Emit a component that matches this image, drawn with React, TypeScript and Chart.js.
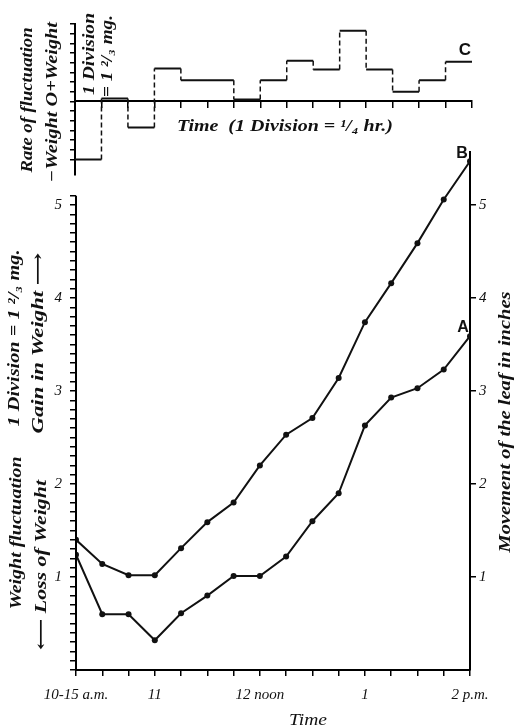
import React, { useEffect, useRef } from 'react';
import { Chart, registerables } from 'chart.js';

Chart.register(...registerables);

// ---- data ----
// x index = quarter hours from 10-15 a.m. (0) to 2 p.m. (15)
const timeTickLabels = ['10-15 a.m.', '', '', '11', '', '', '', '12 noon', '', '', '', '1', '', '', '', '2 p.m.'];
const leafA = [1.24, 0.60, 0.60, 0.32, 0.61, 0.80, 1.01, 1.01, 1.22, 1.60, 1.90, 2.63, 2.93, 3.03, 3.23, 3.59];
const leafB = [1.40, 1.14, 1.02, 1.02, 1.31, 1.59, 1.80, 2.20, 2.53, 2.71, 3.14, 3.74, 4.16, 4.59, 5.06, 5.47];
// rate of fluctuation per quarter hour (divisions)
const rateC = [-6.0, 0.3, -2.7, 3.4, 2.2, 2.2, 0.2, 2.2, 4.2, 3.3, 7.3, 3.3, 1.0, 2.2, 4.1];
const weightTickLabels = ['1', '2', '3', '4', '5'];
const leafTickLabels = ['1', '2', '3', '4', '5'];

const SERIF = '"Liberation Serif", "DejaVu Serif", serif';
const SANS = '"Liberation Sans", "DejaVu Sans", sans-serif';

function drawText(ctx: any, s: string, x: number, y: number, font: string, rot = 0, len = 0) {
  ctx.save();
  ctx.translate(x, y);
  ctx.rotate(rot);
  ctx.font = font;
  ctx.fillStyle = '#111';
  ctx.textAlign = 'center';
  ctx.textBaseline = 'middle';
  if (len) {
    const w = ctx.measureText(s).width;
    ctx.scale(len / w, 1);
  }
  ctx.fillText(s, 0, 0);
  ctx.restore();
}

const R = -Math.PI / 2;

const topTextPlugin = {
  id: 'topText',
  afterDraw(chart: any) {
    const ctx = chart.ctx;
    drawText(ctx, 'Rate of fluctuation', 28, 100, `italic bold 16px ${SERIF}`, R, 145);
    drawText(ctx, '\u2212Weight O+Weight', 53, 102, `italic bold 16px ${SERIF}`, R, 160);
    drawText(ctx, '1 Division', 90, 54, `italic bold 16px ${SERIF}`, R, 82);
    drawText(ctx, '= 1 \u00B2/\u2083 mg.', 108, 56, `italic bold 16px ${SERIF}`, R, 82);
    drawText(ctx, 'Time  (1 Division = \u00B9/\u2084 hr.)', 285, 127, `italic bold 16px ${SERIF}`, 0, 216);
    drawText(ctx, 'C', 465, 50, `bold 17px ${SANS}`);
  },
};

const bottomTextPlugin = {
  id: 'bottomText',
  afterDraw(chart: any) {
    const ctx = chart.ctx;
    const y = chart.scales.y;
    const left = chart.chartArea.left;
    ctx.save();
    ctx.strokeStyle = '#000';
    ctx.lineWidth = 2;
    ctx.beginPath();
    ctx.moveTo(left, y.getPixelForValue(0) + 1);
    ctx.lineTo(left, y.getPixelForValue(5.1));
    ctx.stroke();
    ctx.restore();

    drawText(ctx, '1 Division = 1 \u00B2/\u2083 mg.', 15, 338, `italic bold 16px ${SERIF}`, R, 177);
    drawText(ctx, 'Gain in Weight \u27F6', 39, 343, `italic bold 16px ${SERIF}`, R, 181);
    drawText(ctx, 'Weight fluctuation', 17, 533, `italic bold 16px ${SERIF}`, R, 153);
    drawText(ctx, '\u27F5 Loss of Weight', 42, 565, `italic bold 16px ${SERIF}`, R, 170);
    drawText(ctx, 'Movement of the leaf in inches', 506, 422, `italic bold 16px ${SERIF}`, R, 261);
    drawText(ctx, 'A', 463, 328, `bold 16px ${SANS}`);
    drawText(ctx, 'B', 462, 154, `bold 16px ${SANS}`);
    drawText(ctx, 'Time', 308, 721, `italic 16px ${SERIF}`, 0, 38);
  },
};

export default function App() {
  const topRef = useRef<HTMLCanvasElement>(null);
  const botRef = useRef<HTMLCanvasElement>(null);

  useEffect(() => {
    document.body.style.margin = '0';
    document.body.style.overflow = 'hidden';
    document.body.style.background = '#fff';

    const hSeg: any[] = [];
    rateC.forEach((v, i) => {
      hSeg.push({ x: i, y: v }, { x: i + 1, y: v }, { x: i + 1, y: null });
    });
    const vSeg: any[] = [];
    for (let i = 1; i < rateC.length; i++) {
      vSeg.push({ x: i, y: rateC[i - 1] }, { x: i, y: rateC[i] }, { x: i, y: null });
    }

    const topChart = new Chart(topRef.current as any, {
      type: 'line',
      data: {
        datasets: [
          { data: hSeg, borderColor: '#111', borderWidth: 2, pointRadius: 0, spanGaps: false },
          { data: vSeg, borderColor: '#111', borderWidth: 1.5, borderDash: [5, 3], pointRadius: 0, spanGaps: false },
        ],
      },
      options: {
        responsive: false,
        animation: false,
        layout: { padding: { top: 24, bottom: 25, left: 0, right: 42 } },
        plugins: { legend: { display: false }, tooltip: { enabled: false } },
        scales: {
          x: {
            type: 'linear',
            min: 0,
            max: 15,
            position: { y: 0 } as any,
            border: { display: true, color: '#000', width: 2 },
            grid: { drawOnChartArea: false, tickLength: 6, color: '#000', lineWidth: 1.5 },
            ticks: { display: false, stepSize: 1, autoSkip: false },
          },
          y: {
            type: 'linear',
            min: -7.6,
            max: 8,
            position: 'left',
            afterFit: (s: any) => { s.width = 75; },
            afterBuildTicks: (s: any) => { s.ticks = s.ticks.filter((t: any) => Math.abs(t.value - Math.round(t.value)) < 1e-6); },
            border: { display: true, color: '#000', width: 2 },
            grid: { drawOnChartArea: false, tickLength: 5, color: '#000', lineWidth: 1.5 },
            ticks: { display: false, stepSize: 1, autoSkip: false },
          },
        },
      } as any,
      plugins: [topTextPlugin],
    });

    const tickFont = { family: SERIF, style: 'italic' as const, size: 15 };
    const labelAt = (arr: string[]) => (v: any) => {
      const r = Math.round(Number(v) * 10) / 10;
      return r > 0 && r % 1 === 0 && arr[r - 1] !== undefined ? arr[r - 1] : '';
    };

    const botChart = new Chart(botRef.current as any, {
      type: 'line',
      data: {
        datasets: [
          {
            label: 'A',
            data: leafA.map((v, i) => ({ x: i, y: v })),
            borderColor: '#111', borderWidth: 2,
            pointRadius: 3, pointBackgroundColor: '#111', pointBorderWidth: 0,
            yAxisID: 'y2',
          },
          {
            label: 'B',
            data: leafB.map((v, i) => ({ x: i, y: v })),
            borderColor: '#111', borderWidth: 2,
            pointRadius: 3, pointBackgroundColor: '#111', pointBorderWidth: 0,
            yAxisID: 'y2',
          },
        ],
      },
      options: {
        responsive: false,
        animation: false,
        layout: { padding: { top: 152, bottom: 0, left: 0, right: 0 } },
        plugins: { legend: { display: false }, tooltip: { enabled: false } },
        scales: {
          x: {
            type: 'linear',
            min: 0,
            max: 15,
            position: 'bottom',
            afterFit: (s: any) => { s.height = 57; },
            border: { display: true, color: '#000', width: 2 },
            grid: { drawOnChartArea: false, tickLength: 6, color: '#000', lineWidth: 1.5 },
            ticks: {
              stepSize: 1, autoSkip: false, maxRotation: 0, padding: 10,
              color: '#111', font: tickFont,
              callback: (v: any) => timeTickLabels[Math.round(Number(v))] ?? '',
            },
          },
          y: {
            type: 'linear',
            min: 0,
            max: 5.57,
            position: 'left',
            afterFit: (s: any) => { s.width = 76; },
            afterBuildTicks: (s: any) => { s.ticks = s.ticks.filter((t: any) => t.value <= 5.1 + 1e-6); },
            border: { display: false },
            grid: { drawOnChartArea: false, tickLength: 6, color: '#000', lineWidth: 1.5 },
            ticks: { stepSize: 0.1, autoSkip: false, padding: 8, color: '#111', font: tickFont, callback: labelAt(weightTickLabels) },
          },
          y2: {
            type: 'linear',
            min: 0,
            max: 5.57,
            position: 'right',
            afterFit: (s: any) => { s.width = 44; },
            afterBuildTicks: (s: any) => { s.ticks = s.ticks.filter((t: any) => Math.abs(t.value - Math.round(t.value)) < 1e-6 && t.value > 0); },
            border: { display: true, color: '#000', width: 2 },
            grid: { drawOnChartArea: false, tickLength: 6, color: '#000', lineWidth: 1.5 },
            ticks: { stepSize: 1, autoSkip: false, padding: 3, color: '#111', font: tickFont, callback: labelAt(leafTickLabels) },
          },
        },
      } as any,
      plugins: [bottomTextPlugin],
    });

    return () => {
      topChart.destroy();
      botChart.destroy();
    };
  }, []);

  return (
    <div style={{ position: 'relative', width: 514, height: 727, background: '#fff' }}>
      <canvas ref={botRef} width={514} height={727} style={{ position: 'absolute', left: 0, top: 0 }} />
      <canvas ref={topRef} width={514} height={200} style={{ position: 'absolute', left: 0, top: 0 }} />
    </div>
  );
}
